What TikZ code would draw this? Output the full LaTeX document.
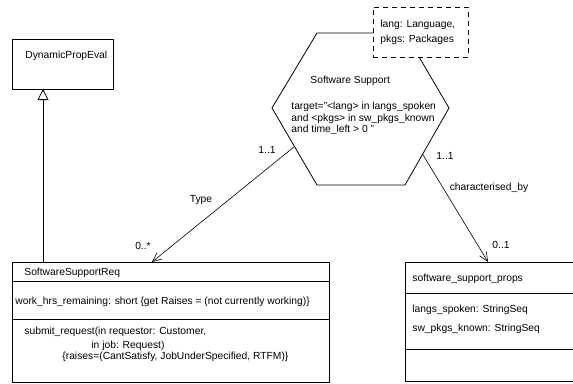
\documentclass[tikz,border=0pt]{standalone}
\usepackage{fontspec}
\setmainfont{Liberation Sans}
\usetikzlibrary{arrows.meta}
\usetikzlibrary{calc}

\begin{document}
\begin{tikzpicture}[x=1pt, y=-1pt, line width=.8pt,
  txt/.style={anchor=base west, inner sep=0pt, font=\fontsize{10.3}{12}\selectfont},
  lbl/.style={inner sep=0pt, font=\fontsize{10.3}{12}\selectfont},
  classbox/.style={draw, anchor=north west, inner sep=0pt, outer sep=0pt},
  gen/.style={-{Triangle[open, length=11pt, width=11pt]}},
  assoc/.style={line width=.6pt, -{Straight Barb[length=9pt, width=8pt]}}]
 \useasboundingbox (0,0) rectangle (573,383);
 % left hand classes
 \node[classbox, minimum width=101pt, minimum height=50pt] (dpe) at (12,39) {};
 \node[txt] (dpe-name) at (25,58) {DynamicPropEval};
 \node[classbox, minimum width=317pt, minimum height=120pt] (req) at (12,262) {};
 \draw (12,281) -- (329,281);
 \draw (12,319) -- (329,319);
 \node[txt] (req-name) at (24,275) {SoftwareSupportReq};
 \node[txt] (req-attr) at (15,304) {work\_hrs\_remaining: short \{get Raises = (not currently working)\}};
 \node[txt] (req-op1) at (24,334) {submit\_request(in requestor: Customer,};
 \node[txt] (req-op2) at (91,348) {in job: Request)};
 \node[txt] (req-op3) at (62,359) {\{raises=(CantSatisfy, JobUnderSpecified, RTFM)\}};
 \draw[gen] (43,262) -- (43,89);
 % the hexagon
 \coordinate (hx-tl) at (317,33);
 \coordinate (hx-tr) at (405,33);
 \coordinate (hx-r) at (449,108);
 \coordinate (hx-br) at (405,185);
 \coordinate (hx-bl) at (317,185);
 \coordinate (hx-l) at (272,108);
 \draw (hx-tl) -- (hx-tr) -- (hx-r) -- (hx-br) -- (hx-bl) -- (hx-l) -- cycle;
 \node[txt] (hx-name) at (310,83) {Software Support};
 \node[txt] (hx-t1) at (291,109) {target="<lang> in langs\_spoken};
 \node[txt] (hx-t2) at (291,121) {and <pkgs> in sw\_pkgs\_known};
 \node[txt] (hx-t3) at (291,132) {and time\_left > 0 "};
 \node[classbox, fill=white, dash pattern=on 5pt off 4pt, minimum width=95pt, minimum height=50pt] (params) at (373,7) {};
 \node[txt] (par1) at (380,27) {lang: Language,};
 \node[txt] (par2) at (380,42) {pkgs: Packages};
 % right hand class
 \node[classbox, minimum width=172pt, minimum height=119pt] (props) at (405,262) {};
 \draw (405,293) -- (577,293);
 \draw (405,349) -- (577,349);
 \node[txt] (props-name) at (412,281) {software\_support\_props};
 \node[txt] (props-a1) at (412,312) {langs\_spoken: StringSeq};
 \node[txt] (props-a2) at (412,331) {sw\_pkgs\_known: StringSeq};
 % associations
 \coordinate (type-start) at ($(hx-l)!.5!(hx-bl)$);
 \coordinate (type-end) at (152,262);
 \coordinate (char-start) at ($(hx-r)!.6!(hx-br)$);
 \coordinate (char-end) at (488,262);
 \draw[assoc] (type-start) -- (type-end);
 \draw[assoc] (char-start) -- (char-end);
 \node[lbl] (m1) at (267,150) {1..1};
 \node[lbl] (type) at (201,200) {Type};
 \node[lbl] (m2) at (143,246) {0..*};
 \node[lbl] (m3) at (445,156) {1..1};
 \node[lbl] (charby) at (489,188) {characterised\_by};
 \node[lbl] (m4) at (501,245) {0..1};
\end{tikzpicture}
\end{document}
